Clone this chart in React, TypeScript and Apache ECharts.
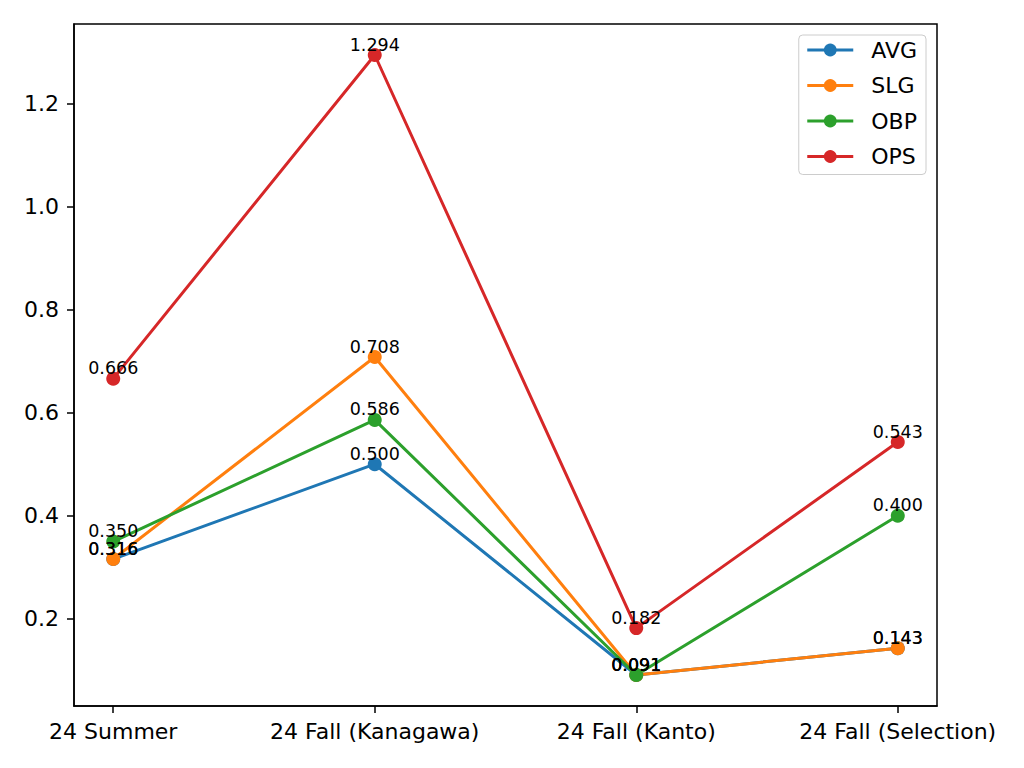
import React, { useEffect, useRef } from "react";
import * as echarts from "echarts";

const categories = ["24 Summer", "24 Fall (Kanagawa)", "24 Fall (Kanto)", "24 Fall (Selection)"];
const avg = [0.316, 0.5, 0.091, 0.143];
const slg = [0.316, 0.708, 0.091, 0.143];
const obp = [0.35, 0.586, 0.091, 0.4];
const ops = [0.666, 1.294, 0.182, 0.543];
const yTicks = [0.2, 0.4, 0.6, 0.8, 1.0, 1.2];

const seriesDefs = [
  { name: "AVG", values: avg, color: "#1f77b4" },
  { name: "SLG", values: slg, color: "#ff7f0e" },
  { name: "OBP", values: obp, color: "#2ca02c" },
  { name: "OPS", values: ops, color: "#d62728" },
];

const FONT = "DejaVu Sans";

export default function App() {
  const ref = useRef<HTMLDivElement>(null);
  useEffect(() => {
    if (!ref.current) return;
    const chart = echarts.init(ref.current, null, { renderer: "svg" });
    const all = seriesDefs.flatMap((s) => s.values);
    const lo = Math.min(...all);
    const hi = Math.max(...all);
    const pad = (hi - lo) * 0.05;
    chart.setOption({
      animation: false,
      backgroundColor: "#ffffff",
      grid: {
        left: 74,
        right: 87,
        top: 24,
        bottom: 62,
        show: true,
        borderColor: "#000000",
        borderWidth: 1.5,
        backgroundColor: "transparent",
      },
      legend: {
        orient: "vertical",
        right: 98,
        top: 35,
        itemWidth: 46,
        itemHeight: 16,
        itemGap: 13.5,
        padding: [4, 9, 7, 7],
        backgroundColor: "#ffffff",
        borderColor: "#cccccc",
        borderWidth: 1,
        borderRadius: 4,
        lineStyle: { width: 3 },
        textStyle: {
          fontFamily: FONT,
          fontSize: 22,
          lineHeight: 22,
          color: "#000000",
          padding: [0, 0, 0, 13],
        },
        data: seriesDefs.map((s) => s.name),
      },
      xAxis: {
        type: "value",
        min: -0.15,
        max: 3.15,
        splitLine: { show: false },
        axisLine: { show: true, onZero: false, lineStyle: { color: "#000", width: 1.5 } },
        axisTick: { show: true, customValues: [0, 1, 2, 3], length: 7, lineStyle: { color: "#000", width: 1.5 } },
        axisLabel: {
          customValues: [0, 1, 2, 3],
          formatter: (v: number) => categories[Math.round(v)] ?? "",
          fontFamily: FONT,
          fontSize: 22,
          color: "#000",
          margin: 14,
        },
      },
      yAxis: {
        type: "value",
        min: lo - pad,
        max: hi + pad,
        splitLine: { show: false },
        axisLine: { show: true, onZero: false, lineStyle: { color: "#000", width: 1.5 } },
        axisTick: { show: true, customValues: yTicks, length: 7, lineStyle: { color: "#000", width: 1.5 } },
        axisLabel: {
          customValues: yTicks,
          formatter: (v: number) => v.toFixed(1),
          fontFamily: FONT,
          fontSize: 22,
          color: "#000",
          margin: 15,
        },
      },
      series: seriesDefs.map((s) => ({
        name: s.name,
        type: "line",
        data: s.values.map((v, i) => [i, v]),
        color: s.color,
        symbol: "circle",
        symbolSize: 14,
        lineStyle: { width: 3, color: s.color },
        itemStyle: { color: s.color },
        label: {
          show: true,
          position: "top",
          distance: -5.5,
          formatter: (p: any) => p.value[1].toFixed(3),
          fontFamily: FONT,
          fontSize: 17.5,
          color: "#000",
        },
        emphasis: { disabled: true },
      })),
    });
    return () => chart.dispose();
  }, []);
  return (
    <div
      ref={ref}
      style={{ position: "absolute", left: 0, top: 0, width: 1024, height: 768 }}
    />
  );
}
